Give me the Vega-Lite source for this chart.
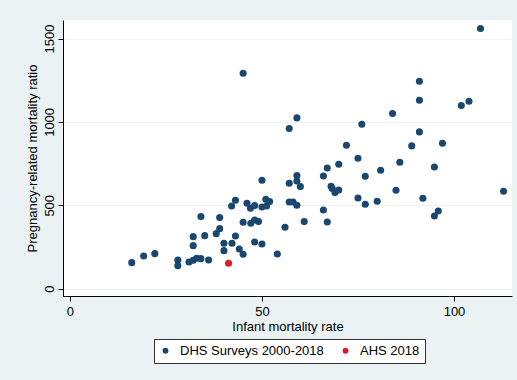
{
  "$schema": "https://vega.github.io/schema/vega-lite/v6.json",
  "width": 449,
  "height": 276,
  "autosize": {"type": "none"},
  "padding": {"left": 63, "top": 20, "right": 5, "bottom": 84},
  "background": "#EAF2F3",
  "config": {
    "font": "Liberation Sans",
    "view": {"fill": "white", "stroke": null},
    "axis": {
      "domainColor": "#000000",
      "domainWidth": 1,
      "tickColor": "#000000",
      "tickSize": 5,
      "tickWidth": 1,
      "labelFont": "Liberation Sans",
      "labelFontSize": 13,
      "labelColor": "#000000",
      "titleFont": "Liberation Sans",
      "titleFontSize": 13,
      "titleFontWeight": "normal",
      "titleColor": "#000000",
      "gridColor": "#EAF2F3",
      "gridWidth": 1.2
    },
    "legend": {
      "labelFont": "Liberation Sans",
      "labelFontSize": 13,
      "labelColor": "#000000"
    }
  },
  "data": {
    "values": [
      {"imr": 16.1, "prmr": 156, "source": "DHS Surveys 2000-2018"},
      {"imr": 19.2, "prmr": 196, "source": "DHS Surveys 2000-2018"},
      {"imr": 22.1, "prmr": 210, "source": "DHS Surveys 2000-2018"},
      {"imr": 28.1, "prmr": 172, "source": "DHS Surveys 2000-2018"},
      {"imr": 28.1, "prmr": 138, "source": "DHS Surveys 2000-2018"},
      {"imr": 31.0, "prmr": 160, "source": "DHS Surveys 2000-2018"},
      {"imr": 32.1, "prmr": 170, "source": "DHS Surveys 2000-2018"},
      {"imr": 33.0, "prmr": 182, "source": "DHS Surveys 2000-2018"},
      {"imr": 34.1, "prmr": 180, "source": "DHS Surveys 2000-2018"},
      {"imr": 36.1, "prmr": 172, "source": "DHS Surveys 2000-2018"},
      {"imr": 32.1, "prmr": 312, "source": "DHS Surveys 2000-2018"},
      {"imr": 32.1, "prmr": 258, "source": "DHS Surveys 2000-2018"},
      {"imr": 34.1, "prmr": 432, "source": "DHS Surveys 2000-2018"},
      {"imr": 35.1, "prmr": 318, "source": "DHS Surveys 2000-2018"},
      {"imr": 38.1, "prmr": 330, "source": "DHS Surveys 2000-2018"},
      {"imr": 39.0, "prmr": 360, "source": "DHS Surveys 2000-2018"},
      {"imr": 39.0, "prmr": 426, "source": "DHS Surveys 2000-2018"},
      {"imr": 40.1, "prmr": 272, "source": "DHS Surveys 2000-2018"},
      {"imr": 40.1, "prmr": 228, "source": "DHS Surveys 2000-2018"},
      {"imr": 42.1, "prmr": 496, "source": "DHS Surveys 2000-2018"},
      {"imr": 43.1, "prmr": 530, "source": "DHS Surveys 2000-2018"},
      {"imr": 43.1, "prmr": 316, "source": "DHS Surveys 2000-2018"},
      {"imr": 42.2, "prmr": 272, "source": "DHS Surveys 2000-2018"},
      {"imr": 44.1, "prmr": 238, "source": "DHS Surveys 2000-2018"},
      {"imr": 45.1, "prmr": 206, "source": "DHS Surveys 2000-2018"},
      {"imr": 45.1, "prmr": 398, "source": "DHS Surveys 2000-2018"},
      {"imr": 46.1, "prmr": 512, "source": "DHS Surveys 2000-2018"},
      {"imr": 47.0, "prmr": 482, "source": "DHS Surveys 2000-2018"},
      {"imr": 48.1, "prmr": 498, "source": "DHS Surveys 2000-2018"},
      {"imr": 47.1, "prmr": 392, "source": "DHS Surveys 2000-2018"},
      {"imr": 48.1, "prmr": 412, "source": "DHS Surveys 2000-2018"},
      {"imr": 49.1, "prmr": 402, "source": "DHS Surveys 2000-2018"},
      {"imr": 48.1, "prmr": 280, "source": "DHS Surveys 2000-2018"},
      {"imr": 50.0, "prmr": 268, "source": "DHS Surveys 2000-2018"},
      {"imr": 50.0, "prmr": 490, "source": "DHS Surveys 2000-2018"},
      {"imr": 51.0, "prmr": 536, "source": "DHS Surveys 2000-2018"},
      {"imr": 51.2, "prmr": 496, "source": "DHS Surveys 2000-2018"},
      {"imr": 52.0, "prmr": 522, "source": "DHS Surveys 2000-2018"},
      {"imr": 50.0, "prmr": 650, "source": "DHS Surveys 2000-2018"},
      {"imr": 54.0, "prmr": 208, "source": "DHS Surveys 2000-2018"},
      {"imr": 56.0, "prmr": 368, "source": "DHS Surveys 2000-2018"},
      {"imr": 57.1, "prmr": 520, "source": "DHS Surveys 2000-2018"},
      {"imr": 58.1, "prmr": 520, "source": "DHS Surveys 2000-2018"},
      {"imr": 59.1, "prmr": 500, "source": "DHS Surveys 2000-2018"},
      {"imr": 57.1, "prmr": 632, "source": "DHS Surveys 2000-2018"},
      {"imr": 59.1, "prmr": 678, "source": "DHS Surveys 2000-2018"},
      {"imr": 59.1, "prmr": 646, "source": "DHS Surveys 2000-2018"},
      {"imr": 60.0, "prmr": 612, "source": "DHS Surveys 2000-2018"},
      {"imr": 61.0, "prmr": 402, "source": "DHS Surveys 2000-2018"},
      {"imr": 57.1, "prmr": 960, "source": "DHS Surveys 2000-2018"},
      {"imr": 59.1, "prmr": 1024, "source": "DHS Surveys 2000-2018"},
      {"imr": 45.1, "prmr": 1292, "source": "DHS Surveys 2000-2018"},
      {"imr": 66.0, "prmr": 472, "source": "DHS Surveys 2000-2018"},
      {"imr": 67.0, "prmr": 400, "source": "DHS Surveys 2000-2018"},
      {"imr": 66.0, "prmr": 676, "source": "DHS Surveys 2000-2018"},
      {"imr": 67.0, "prmr": 724, "source": "DHS Surveys 2000-2018"},
      {"imr": 68.0, "prmr": 614, "source": "DHS Surveys 2000-2018"},
      {"imr": 68.3, "prmr": 600, "source": "DHS Surveys 2000-2018"},
      {"imr": 69.0, "prmr": 576, "source": "DHS Surveys 2000-2018"},
      {"imr": 70.0, "prmr": 592, "source": "DHS Surveys 2000-2018"},
      {"imr": 70.0, "prmr": 746, "source": "DHS Surveys 2000-2018"},
      {"imr": 72.0, "prmr": 860, "source": "DHS Surveys 2000-2018"},
      {"imr": 75.0, "prmr": 782, "source": "DHS Surveys 2000-2018"},
      {"imr": 75.0, "prmr": 544, "source": "DHS Surveys 2000-2018"},
      {"imr": 76.0, "prmr": 986, "source": "DHS Surveys 2000-2018"},
      {"imr": 76.9, "prmr": 674, "source": "DHS Surveys 2000-2018"},
      {"imr": 76.9, "prmr": 506, "source": "DHS Surveys 2000-2018"},
      {"imr": 80.0, "prmr": 524, "source": "DHS Surveys 2000-2018"},
      {"imr": 80.9, "prmr": 710, "source": "DHS Surveys 2000-2018"},
      {"imr": 84.0, "prmr": 1050, "source": "DHS Surveys 2000-2018"},
      {"imr": 84.9, "prmr": 590, "source": "DHS Surveys 2000-2018"},
      {"imr": 85.9, "prmr": 758, "source": "DHS Surveys 2000-2018"},
      {"imr": 89.0, "prmr": 856, "source": "DHS Surveys 2000-2018"},
      {"imr": 91.0, "prmr": 1244, "source": "DHS Surveys 2000-2018"},
      {"imr": 91.0, "prmr": 1130, "source": "DHS Surveys 2000-2018"},
      {"imr": 91.0, "prmr": 940, "source": "DHS Surveys 2000-2018"},
      {"imr": 91.9, "prmr": 542, "source": "DHS Surveys 2000-2018"},
      {"imr": 94.9, "prmr": 730, "source": "DHS Surveys 2000-2018"},
      {"imr": 94.9, "prmr": 436, "source": "DHS Surveys 2000-2018"},
      {"imr": 95.9, "prmr": 466, "source": "DHS Surveys 2000-2018"},
      {"imr": 97.0, "prmr": 872, "source": "DHS Surveys 2000-2018"},
      {"imr": 101.9, "prmr": 1098, "source": "DHS Surveys 2000-2018"},
      {"imr": 103.9, "prmr": 1124, "source": "DHS Surveys 2000-2018"},
      {"imr": 106.9, "prmr": 1560, "source": "DHS Surveys 2000-2018"},
      {"imr": 112.9, "prmr": 584, "source": "DHS Surveys 2000-2018"},
      {"imr": 41.3, "prmr": 152, "source": "AHS 2018"}
    ]
  },
  "mark": {"type": "point", "filled": true, "opacity": 1, "size": 50, "shape": "circle"},
  "encoding": {
    "x": {
      "field": "imr",
      "type": "quantitative",
      "title": "Infant mortality rate",
      "scale": {"domain": [-1.8, 115.1], "nice": false, "zero": false},
      "axis": {"values": [0, 50, 100], "grid": false, "labelPadding": 4, "titlePadding": 2, "format": "d"}
    },
    "y": {
      "field": "prmr",
      "type": "quantitative",
      "title": "Pregnancy-related mortality ratio",
      "scale": {"domain": [-44, 1611], "nice": false, "zero": false},
      "axis": {"values": [0, 500, 1000, 1500], "grid": true, "labelAngle": -90, "labelAlign": "center", "labelBaseline": "bottom", "labelPadding": 2, "titlePadding": 4, "format": "d"}
    },
    "color": {
      "field": "source",
      "type": "nominal",
      "scale": {"domain": ["DHS Surveys 2000-2018", "AHS 2018"], "range": ["#1A476F", "#E31A1C"]},
      "legend": {
        "title": null,
        "orient": "none",
        "legendX": 91,
        "legendY": 319,
        "direction": "horizontal",
        "columns": 2,
        "fillColor": "white",
        "strokeColor": "#333333",
        "padding": 5,
        "symbolType": "circle",
        "symbolSize": 34,
        "symbolStrokeWidth": 0,
        "labelOffset": 8,
        "columnPadding": 15
      }
    }
  }
}
